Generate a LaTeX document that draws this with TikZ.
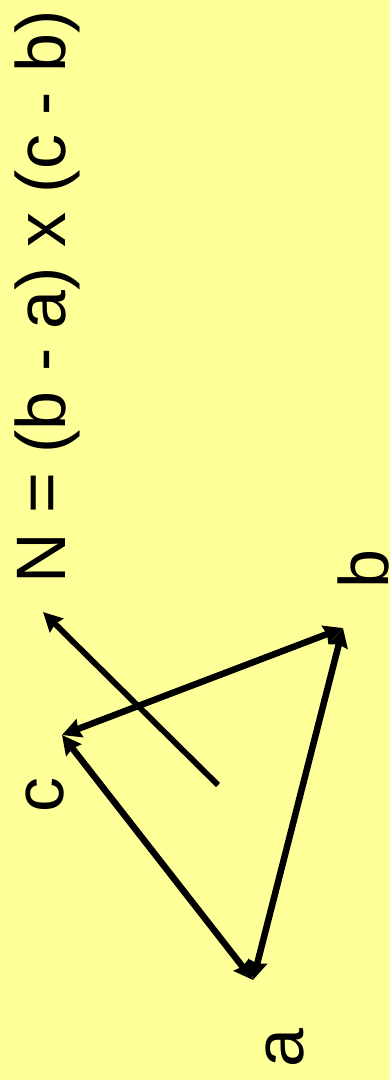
\documentclass[tikz,border=0pt]{standalone}
\usepackage{fontspec}
\setmainfont{Liberation Sans}
\usetikzlibrary{arrows.meta}
\definecolor{bgyellow}{HTML}{FFFF99}
\begin{document}
\begin{tikzpicture}[x=1pt,y=-1pt,
  tip/.tip={Stealth[length=19pt,width=19pt,inset=2pt]},
  vec/.style={line width=5.8pt,-tip},
  dvec/.style={line width=6.5pt,tip-tip},
  lbl/.style={rotate=90,anchor=base west,inner sep=0pt,font=\fontsize{70}{84}\selectfont}]
\fill[bgyellow] (0,0) rectangle (390,1080);
\useasboundingbox (0,0) rectangle (390,1080);
\coordinate (a) at (253,980);
\coordinate (b) at (343,628);
\coordinate (c) at (62,735);
\coordinate (n0) at (218,785);
\coordinate (n1) at (43,612);
\node[lbl] (eq) at (65,584) {N = (b - a) x (c - b)};
\node[lbl] (lb) at (388,589) {b};
\node[lbl] (lc) at (63,813) {c};
\node[lbl] (la) at (303,1068) {a};
\draw[dvec] (a) -- (b);
\draw[dvec] (b) -- (c);
\draw[dvec] (a) -- (c);
\draw[vec] (n0) -- (n1);
\end{tikzpicture}
\end{document}
